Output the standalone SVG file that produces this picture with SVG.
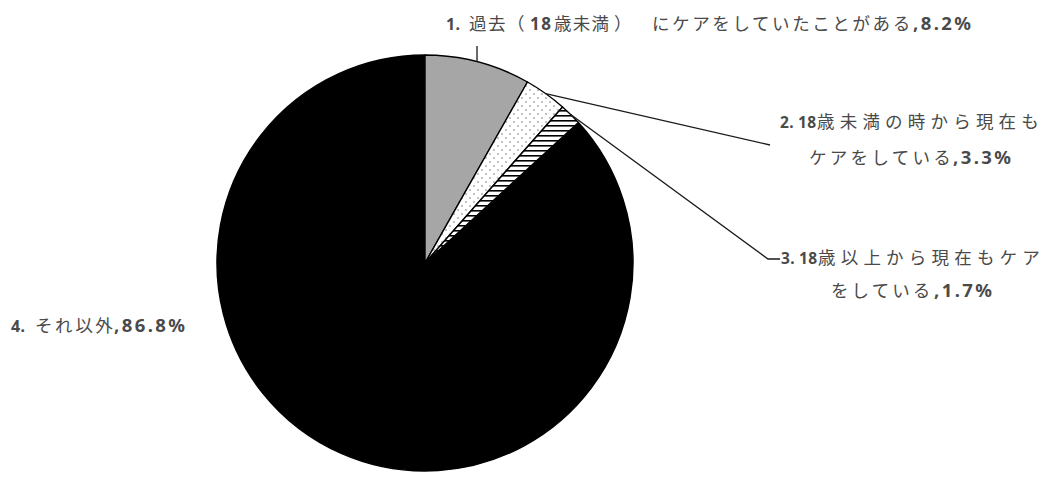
<svg xmlns="http://www.w3.org/2000/svg" width="1052" height="477" viewBox="0 0 1052 477">
<style>
.lbl{font-family:"Noto Sans CJK JP","Noto Sans",sans-serif;font-size:17.5px;fill:#4a4a4a}
.j{letter-spacing:2.6px}
.jw{letter-spacing:5.2px}
.n{font-family:"Noto Sans","Noto Sans CJK JP",sans-serif;font-weight:bold;font-size:18.5px;letter-spacing:2.4px}
.ns{font-family:"Noto Sans","Noto Sans CJK JP",sans-serif;font-weight:bold;font-size:15.5px;letter-spacing:0.4px}
.slice{stroke:#000;stroke-width:1.4;stroke-linejoin:round}
.lead{fill:none;stroke:#1a1a1a;stroke-width:1.3}
</style>
<defs>
<pattern id="dots" width="8" height="8" patternUnits="userSpaceOnUse">
<rect width="8" height="8" fill="#fff"/>
<circle cx="2" cy="2" r="0.8" fill="#777"/>
<circle cx="6" cy="6" r="0.8" fill="#777"/>
</pattern>
<pattern id="stripes" width="6" height="5" patternUnits="userSpaceOnUse">
<rect width="6" height="5" fill="#fff"/>
<rect y="0" width="6" height="1.6" fill="#000"/>
</pattern>
</defs>
<rect width="1052" height="477" fill="#fff"/>
<g id="slice-4">
<path class="slice" d="M425,263 L578.40,122.54 A208,208 0 1 1 425,55 Z" fill="#000"/>
</g>
<g id="slice-1">
<path class="slice" d="M425,263 L425,55 A208,208 0 0 1 527.48,81.99 Z" fill="#a6a6a6"/>
</g>
<g id="slice-2">
<path class="slice" d="M425,263 L527.48,81.99 A208,208 0 0 1 562.55,106.98 Z" fill="url(#dots)"/>
</g>
<g id="slice-3">
<path class="slice" d="M425,263 L562.55,106.98 A208,208 0 0 1 578.40,122.54 Z" fill="url(#stripes)"/>
</g>
<g id="connectors">
<path class="lead" d="M477,62 L477,46"/>
<path class="lead" d="M545.66,93.56 L770,145"/>
<path class="lead" d="M570.66,114.5 L768,259 L780,259"/>
</g>
<g id="label-1">
<text class="lbl" y="30"><tspan class="ns" x="446" style="font-size:16px">1.</tspan><tspan x="469" style="letter-spacing:1.5px">過去（</tspan><tspan class="ns" x="530" style="font-size:17px;letter-spacing:1.5px">18</tspan><tspan x="554" style="letter-spacing:1.2px">歳未満</tspan><tspan x="614">）</tspan><tspan class="j" x="652">にケアをしていたことがある</tspan><tspan class="n" x="913">,8.2%</tspan></text>
</g>
<g id="label-2">
<text class="lbl" y="128"><tspan class="ns" x="780">2.</tspan><tspan class="ns" x="798">18</tspan><tspan class="jw" x="817">歳未満の時から現在も</tspan></text>
<text class="lbl" y="164"><tspan x="809" style="letter-spacing:3.3px">ケアをしている</tspan><tspan class="n" x="953">,3.3%</tspan></text>
</g>
<g id="label-3">
<text class="lbl" y="264"><tspan class="ns" x="781">3.</tspan><tspan class="ns" x="799">18</tspan><tspan class="jw" x="818">歳以上から現在もケア</tspan></text>
<text class="lbl" y="297"><tspan x="831" style="letter-spacing:3.1px">をしている</tspan><tspan class="n" x="934">,1.7%</tspan></text>
</g>
<g id="label-4">
<text class="lbl" y="332"><tspan class="ns" x="11" style="font-size:16px">4.</tspan><tspan class="j" x="35">それ以外</tspan><tspan class="n" x="114">,86.8%</tspan></text>
</g>
</svg>
